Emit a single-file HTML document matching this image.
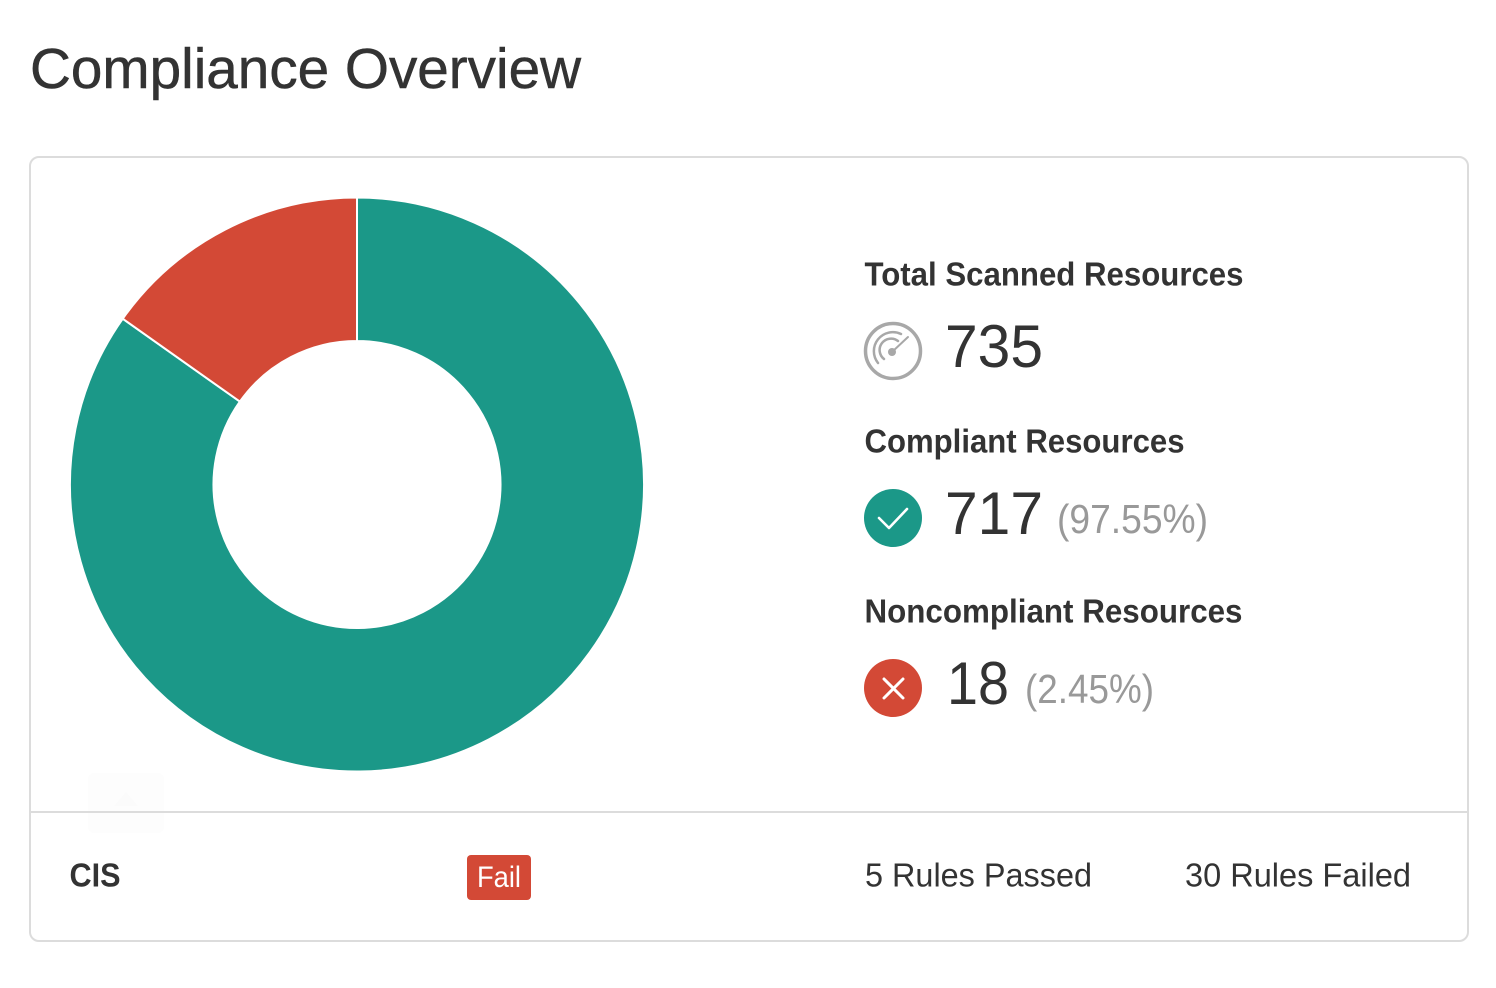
<!DOCTYPE html>
<html>
<head>
<meta charset="utf-8">
<title>Compliance Overview</title>
<style>
html,body{margin:0;padding:0;background:#fff;width:1496px;height:988px;overflow:hidden}
svg{display:block}
text{font-family:"Liberation Sans",sans-serif;fill:#333}
.label{font-size:33px;font-weight:bold;stroke:none}
.num{font-size:60px}
.pct{font-size:41px;fill:#999}
.foot{font-size:33px}
</style>
</head>
<body>
<svg id="root" xmlns="http://www.w3.org/2000/svg" width="1496" height="988" viewBox="0 0 1496 988">
  <text x="30" y="88" font-size="57" textLength="551" lengthAdjust="spacingAndGlyphs" stroke="#333" stroke-width="0.5">Compliance Overview</text>

  <rect x="30" y="157" width="1438" height="784" rx="9" fill="#fff" stroke="#dcdcdc" stroke-width="2"/>
  <g id="donut"></g>

  <rect x="88" y="773" width="76" height="60" rx="6" fill="#fdfdfd"/>
  <path d="M114 806 L126 792 L138 806 Z" fill="#fbfbfb"/>
  <line x1="31" x2="1467" y1="812" y2="812" stroke="#dcdcdc" stroke-width="2"/>

  <text class="label" x="864.5" y="285.5" textLength="379" lengthAdjust="spacingAndGlyphs">Total Scanned Resources</text>
  <g fill="none" stroke="#a8a8a8" stroke-linecap="round">
    <circle cx="893" cy="351" r="27.5" stroke-width="3.5"/>
    <path d="M884 359 A11 11 0 0 1 898 341" stroke-width="2.5"/>
    <path d="M878 363 A19 19 0 0 1 901 334" stroke-width="2.5"/>
    <line x1="892" y1="352" x2="908" y2="337" stroke-width="2"/>
    <circle cx="892" cy="352" r="4" fill="#a8a8a8" stroke="none"/>
  </g>
  <text class="num" x="945" y="367" textLength="98" lengthAdjust="spacingAndGlyphs">735</text>

  <text class="label" x="864.5" y="452.5" textLength="320" lengthAdjust="spacingAndGlyphs">Compliant Resources</text>
  <g>
    <circle cx="893" cy="518" r="29" fill="#1b9888"/>
    <path d="M879 518 L889 528 L907 509" fill="none" stroke="#fff" stroke-width="2.6" stroke-linecap="round" stroke-linejoin="round"/>
  </g>
  <text class="num" x="945" y="534" textLength="98" lengthAdjust="spacingAndGlyphs">717</text>
  <text class="pct" x="1057" y="533" textLength="151" lengthAdjust="spacingAndGlyphs">(97.55%)</text>

  <text class="label" x="864.5" y="622.5" textLength="378" lengthAdjust="spacingAndGlyphs">Noncompliant Resources</text>
  <g>
    <circle cx="893" cy="688" r="29" fill="#d34936"/>
    <path d="M884 679 L903 698 M903 679 L884 698" fill="none" stroke="#fff" stroke-width="3" stroke-linecap="round"/>
  </g>
  <text class="num" x="947" y="704" textLength="62" lengthAdjust="spacingAndGlyphs">18</text>
  <text class="pct" x="1025" y="703" textLength="129" lengthAdjust="spacingAndGlyphs">(2.45%)</text>

  <text class="foot" font-weight="bold" x="69.5" y="886.5" textLength="51" lengthAdjust="spacingAndGlyphs">CIS</text>
  <rect x="467" y="855" width="64" height="45" rx="4" fill="#d34936"/>
  <text x="477" y="887" font-size="30" textLength="44" lengthAdjust="spacingAndGlyphs" style="fill:#fff">Fail</text>
  <text class="foot" x="865" y="886.5" textLength="227" lengthAdjust="spacingAndGlyphs">5 Rules Passed</text>
  <text class="foot" x="1185" y="886.5" textLength="226" lengthAdjust="spacingAndGlyphs">30 Rules Failed</text>
</svg>
<script>
const categories = ['compliant', 'noncompliant'];
const seriesValues = [84.8, 15.2];
const sliceColors = ['#1b9888', '#d34936'];

const cx = 357, cy = 484.5, outerR = 287, innerR = 143.5;
const total = seriesValues.reduce(function (a, b) { return a + b; }, 0);
function angleOf(v) { return v / total * Math.PI * 2; }
function pt(r, a) { return [cx + r * Math.sin(a), cy - r * Math.cos(a)]; }
function arcPath(a0, a1) {
  const large = a1 - a0 > Math.PI ? 1 : 0;
  const p0 = pt(outerR, a0), p1 = pt(outerR, a1), p2 = pt(innerR, a1), p3 = pt(innerR, a0);
  return 'M' + p0[0] + ' ' + p0[1] +
    'A' + outerR + ' ' + outerR + ' 0 ' + large + ' 1 ' + p1[0] + ' ' + p1[1] +
    'L' + p2[0] + ' ' + p2[1] +
    'A' + innerR + ' ' + innerR + ' 0 ' + large + ' 0 ' + p3[0] + ' ' + p3[1] + 'Z';
}
const donut = document.getElementById('donut');
let start = 0;
seriesValues.forEach(function (v, i) {
  const end = start + angleOf(v);
  const el = document.createElementNS('http://www.w3.org/2000/svg', 'path');
  el.setAttribute('d', arcPath(start, end));
  el.setAttribute('fill', sliceColors[i]);
  el.setAttribute('stroke', '#fff');
  el.setAttribute('stroke-width', '2');
  el.setAttribute('stroke-linejoin', 'round');
  
  
  donut.appendChild(el);
  start = end;
});
</script>
</body>
</html>
